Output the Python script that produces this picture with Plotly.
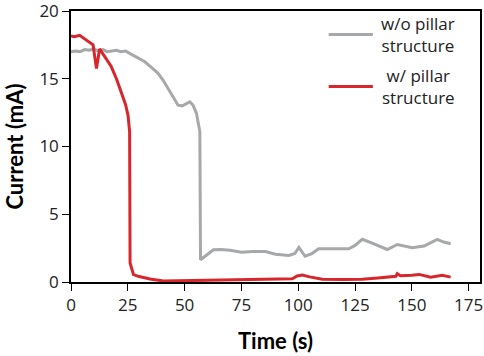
import plotly.graph_objects as go

# Data
time_wo = [0, 2, 4, 6, 8, 10, 12, 14, 16, 18, 20, 22, 24, 26.6, 29, 32.5, 35, 38.3, 40.5, 42.7, 45, 47.1, 49, 50.8, 52.3, 53.7, 55.2, 56.7, 57.0,
           59, 62.7, 66, 70, 75, 80, 85.6, 90, 95.9, 98.5, 100.3, 103, 106, 109, 115, 122.3, 125, 128.2, 132, 136, 139.2, 143.6, 147, 150.2, 155.4, 158, 161.2, 164, 167.1]
current_wo = [17.0, 17.05, 17.0, 17.15, 17.1, 17.2, 17.05, 17.15, 17.0, 17.05, 17.1, 17.0, 17.05, 16.8, 16.6, 16.25, 15.9, 15.4, 14.9, 14.3, 13.7, 13.05, 13.0, 13.2, 13.3, 13.05, 12.45, 11.1, 1.64,
              1.9, 2.38, 2.4, 2.35, 2.2, 2.25, 2.25, 2.05, 1.96, 2.1, 2.55, 1.9, 2.1, 2.45, 2.45, 2.45, 2.7, 3.15, 2.9, 2.6, 2.4, 2.77, 2.65, 2.53, 2.65, 2.9, 3.15, 2.95, 2.82]

time_w = [0, 1.5, 3.8, 6.5, 9.7, 11.2, 12.6, 15, 17.7, 20, 22.2, 24, 25.1, 25.8, 26.0, 27.5, 30, 34.8, 40.7, 50, 60, 70, 80, 90, 97.4, 99.5, 101.8, 105, 110.6, 120, 128.2, 135, 140, 143, 143.6, 145, 150, 153.2, 158.3, 161, 163.4, 167.1]
current_w = [18.15, 18.1, 18.2, 17.9, 17.5, 15.75, 17.2, 16.6, 15.9, 15.0, 14.0, 13.1, 12.3, 11.1, 1.4, 0.54, 0.4, 0.22, 0.07, 0.1, 0.12, 0.15, 0.2, 0.2, 0.24, 0.45, 0.51, 0.38, 0.2, 0.18, 0.2, 0.3, 0.39, 0.42, 0.61, 0.46, 0.5, 0.56, 0.36, 0.42, 0.49, 0.36]

x_ticks = [0, 25, 50, 75, 100, 125, 150, 175]
y_ticks = [0, 5, 10, 15, 20]

GRAY = "#a7a8ab"
RED = "#d7262c"

fig = go.Figure()
fig.add_trace(go.Scatter(x=time_wo, y=current_wo, mode="lines",
                         line=dict(color=GRAY, width=3), showlegend=False))
fig.add_trace(go.Scatter(x=time_w, y=current_w, mode="lines",
                         line=dict(color=RED, width=3), showlegend=False))

# legend drawn manually (centered text)
fig.add_shape(type="line", xref="paper", yref="paper", x0=0.63, x1=0.738, y0=0.913, y1=0.913,
              line=dict(color=GRAY, width=3))
fig.add_shape(type="line", xref="paper", yref="paper", x0=0.63, x1=0.738, y0=0.721, y1=0.721,
              line=dict(color=RED, width=3))
fig.add_annotation(xref="paper", yref="paper", x=0.849, y=0.913, text="w/o pillar<br>structure",
                   showarrow=False, align="center", xanchor="center", yanchor="middle",
                   font=dict(family="Open Sans", size=17, color="#222"))
fig.add_annotation(xref="paper", yref="paper", x=0.849, y=0.721, text="w/ pillar<br>structure",
                   showarrow=False, align="center", xanchor="center", yanchor="middle",
                   font=dict(family="Open Sans", size=17, color="#222"))

fig.update_layout(
    width=484, height=356,
    margin=dict(l=71, r=4, t=11, b=74),
    paper_bgcolor="white", plot_bgcolor="white",
    font=dict(family="Open Sans", size=17, color="#222"),
)
tick_font = dict(family="Open Sans", size=17, color="#222")
fig.update_xaxes(range=[0, 180], tickvals=x_ticks, ticks="outside", ticklen=7, tickwidth=1.3,
                 tickcolor="black", showline=True, linecolor="black", linewidth=1.5, mirror=True,
                 showgrid=False, zeroline=False, automargin=False, tickfont=tick_font,
                 ticklabeloverflow="allow",
                 title=dict(text="<b>Time (s)</b>", font=dict(family="Lato", size=22, color="black"), standoff=18))
fig.update_yaxes(range=[0, 20], tickvals=y_ticks, ticks="outside", ticklen=7, tickwidth=1.3,
                 tickcolor="black", showline=True, linecolor="black", linewidth=1.5, mirror=True,
                 showgrid=False, zeroline=False, automargin=False, tickfont=tick_font,
                 ticklabeloverflow="allow",
                 title=dict(text="<b>Current (mA)</b>", font=dict(family="Lato", size=22, color="black"), standoff=10))

# remove the default page margin so the figure fills the window exactly
fig.write_html("out.html", config={"displayModeBar": False},
               post_script="document.body.style.margin='0';document.body.style.overflow='hidden';")
